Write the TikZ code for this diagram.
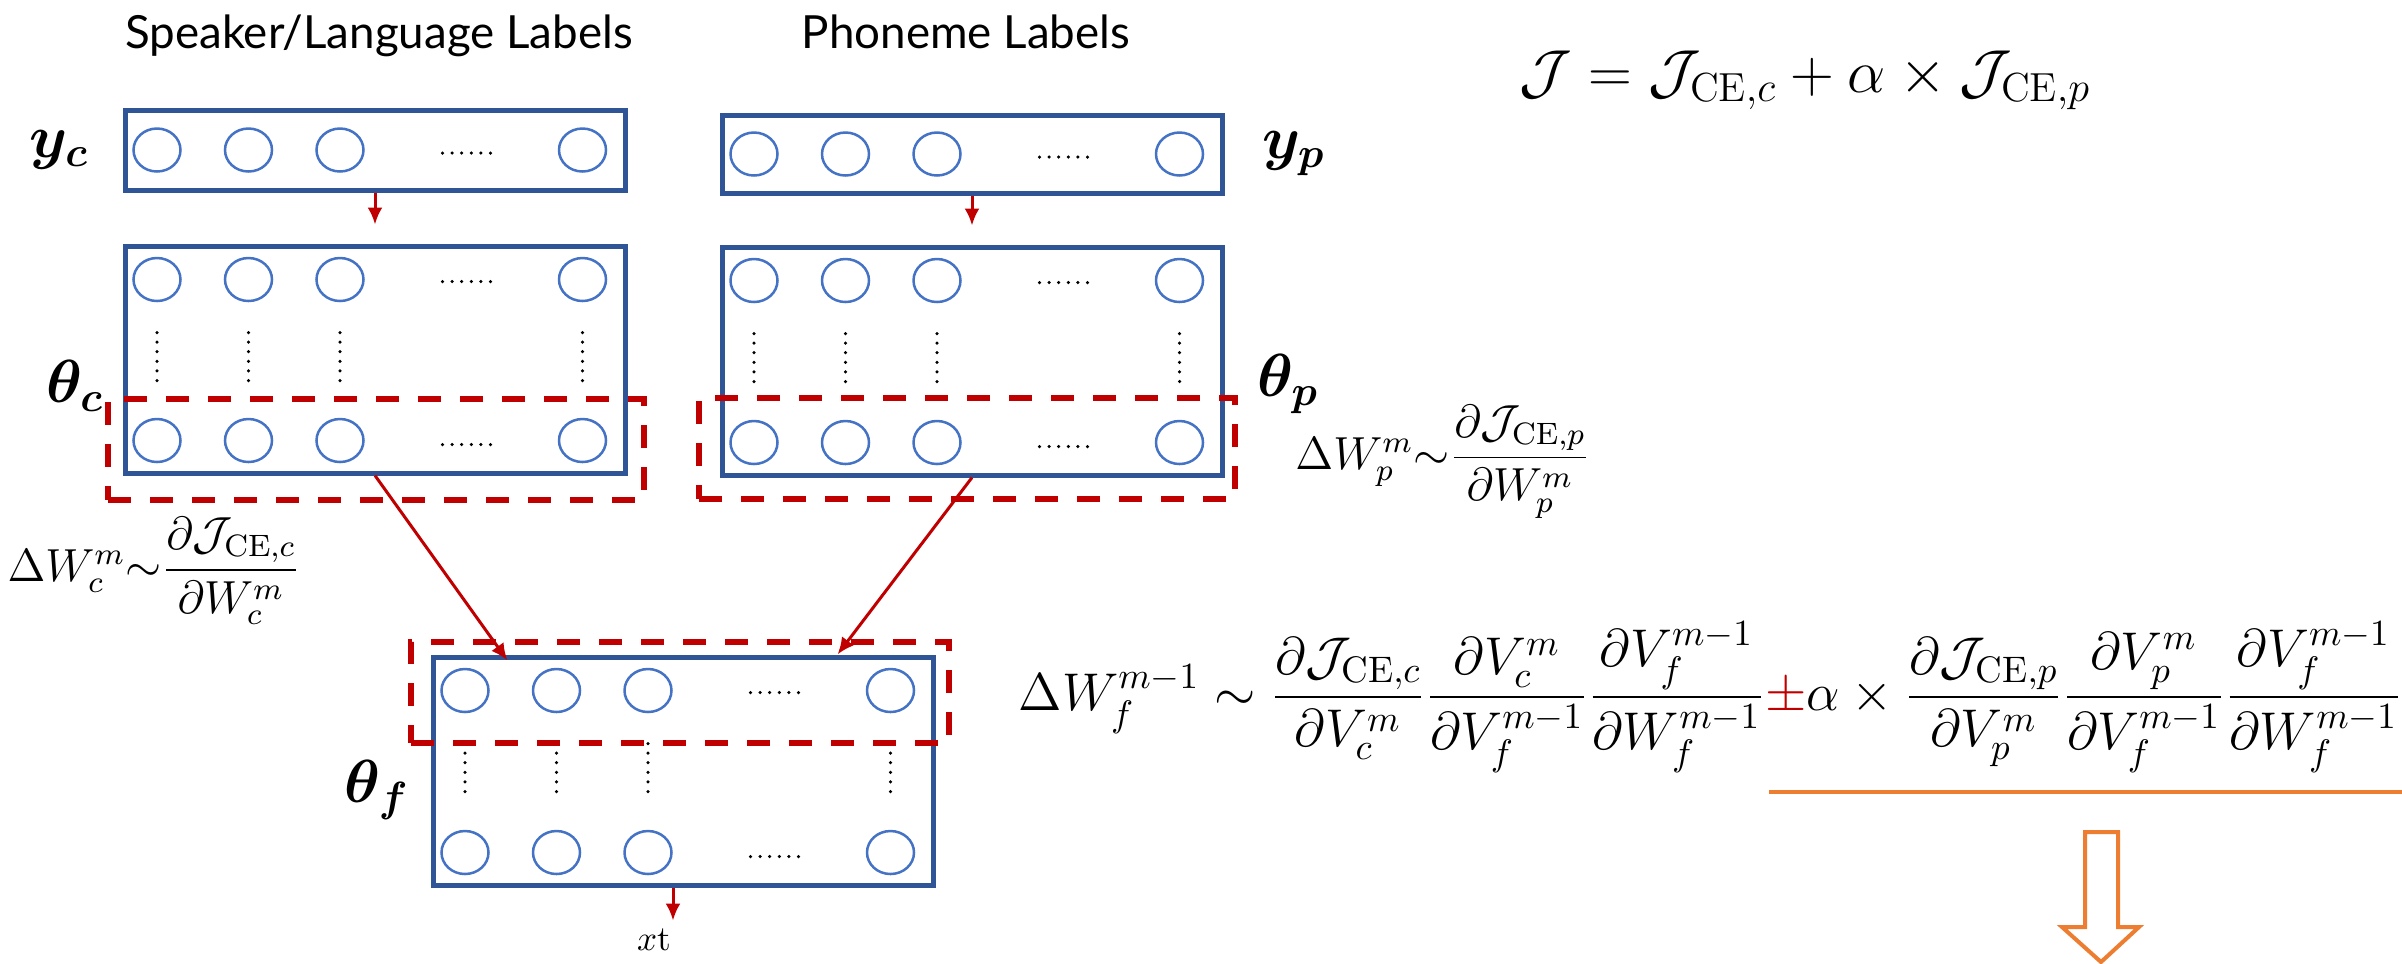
\documentclass[tikz,border=0pt]{standalone}
\usepackage{amsmath}
\usepackage{bm}
\usepackage{fontspec}
\newfontfamily\headfont{Lato}
\usepackage{xcolor}
\usetikzlibrary{shapes.geometric,arrows.meta,positioning,calc}
\definecolor{layerblue}{RGB}{47,85,151}
\definecolor{unitblue}{RGB}{68,114,196}
\definecolor{gradred}{RGB}{192,0,0}
\definecolor{pathorange}{RGB}{237,125,49}

\begin{document}
\begin{tikzpicture}[
    >={Latex[length=0.17cm,width=0.15cm]},
    layer/.style={rectangle, draw=layerblue, line width=0.05cm, minimum width=5cm, inner sep=0},
    unit/.style={ellipse, draw=unitblue, line width=0.025cm, minimum width=0.47cm, minimum height=0.43cm, inner sep=0},
    upd/.style={rectangle, draw=gradred, line width=0.06cm, dash pattern=on 0.23cm off 0.19cm, minimum width=5.36cm, minimum height=1.01cm, inner sep=0},
    dotrow/.style={line width=0.035cm, line cap=round, dash pattern=on 0pt off 0.096cm},
    flow/.style={->, draw=gradred, line width=0.03cm},
    head/.style={font=\headfont\fontsize{13}{15}\selectfont, inner sep=0},
    sym/.style={font=\fontsize{17}{20}\selectfont, inner sep=0},
    grad/.style={font=\fontsize{12}{15}\selectfont, inner sep=0}
]
\useasboundingbox (0,0) rectangle (24.02,-9.63);

% Output layers
\node[layer, minimum height=0.8cm] (yc) at (3.75,-1.50) {};
\node[layer, minimum height=0.78cm] (yp) at (9.72,-1.54) {};

% Task-specific layers
\node[layer, minimum height=2.27cm] (thc) at (3.75,-3.595) {};
\node[layer, minimum height=2.28cm] (thp) at (9.72,-3.61) {};

% Shared layers
\node[layer, minimum height=2.28cm] (thf) at (6.83,-7.71) {};

% Units
\foreach \i/\dx in {1/0.345,2/1.26,3/2.175,4/4.6} {
  \node[unit] (yc\i) at ($(yc.west)+(\dx,0)$) {};
  \node[unit] (yp\i) at ($(yp.west)+(\dx,0)$) {};
  \foreach \b in {thc,thp,thf} {
    \node[unit] (\b a\i) at ($(\b.north west)+(\dx,-0.36)$) {};
    \node[unit] (\b b\i) at ($(\b.south west)+(\dx,0.35)$) {};
    \draw[dotrow] ($(\b.north west)+(\dx,-0.89)$) -- ++(0,-0.48);
  }
}
\draw[dotrow] ($(yc.west)+(3.20,-0.03)$) -- ++(0.48,0);
\draw[dotrow] ($(yp.west)+(3.20,-0.03)$) -- ++(0.48,0);
\foreach \b in {thc,thp,thf} {
  \draw[dotrow] ($(\b.north west)+(3.20,-0.38)$) -- ++(0.48,0);
  \draw[dotrow] ($(\b.south west)+(3.20,0.31)$) -- ++(0.48,0);
}

% Updated weights
\node[upd] (updc) at (3.76,-4.495) {};
\node[upd] (updp) at (9.67,-4.485) {};
\node[upd, minimum width=5.38cm] (updf) at (6.80,-6.925) {};

% Arrows
\coordinate (inc) at ($(thf.north west)+(0.77,-0.06)$);
\coordinate (inp) at ($(thf.north west)+(4.07,0)$);
\coordinate (xtin) at ($(thf.south)+(-0.10,-0.33)$);
\draw[flow, shorten >=0.19cm] (yc.south) -- (thc.north);
\draw[flow, shorten >=0.19cm] (yp.south) -- (thp.north);
\draw[flow] (thc.south) -- (inc);
\draw[flow] (thp.south) -- (inp);
\draw[flow] (xtin |- thf.south) -- (xtin);

% Labels
\node[head, anchor=base] (spk) at (3.79,-0.48) {Speaker/Language Labels};
\node[head, anchor=base] (phn) at (9.66,-0.48) {Phoneme Labels};
\node[sym, left=0.33cm of yc] (lyc) {$\bm{y}_{\bm{c}}$};
\node[sym, right=0.37cm of yp] (lyp) {$\bm{y}_{\bm{p}}$};
\node[sym] (lthc) at (0.75,-3.86) {$\bm{\theta}_{\bm{c}}$};
\node[sym] (lthp) at (12.88,-3.84) {$\bm{\theta}_{\bm{p}}$};
\node[sym] (lthf) at (3.77,-7.90) {$\bm{\theta}_{\bm{f}}$};
\node[font=\fontsize{10}{12}\selectfont, inner sep=0] (xt) at (6.54,-9.40) {$x$t};

% Gradients
\node[grad] (dwc) at (1.54,-5.71) {\scalebox{1.1}{$\Delta W_c^m{\sim}\dfrac{\partial\mathcal{J}_{\mathrm{CE},c}}{\partial W_c^m}$}};
\node[grad] (dwp) at (14.43,-4.62) {\scalebox{1.1}{$\Delta W_p^m{\sim}\dfrac{\partial\mathcal{J}_{\mathrm{CE},p}}{\partial W_p^m}$}};
\node[grad, font=\fontsize{14.4}{17}\selectfont, anchor=west] (dwf) at (10.18,-6.97) {\scalebox{1.05}{$\Delta W_f^{m-1}\sim \dfrac{\partial\mathcal{J}_{\mathrm{CE},c}}{\partial V_c^m}\dfrac{\partial V_c^m}{\partial V_f^{m-1}}\dfrac{\partial V_f^{m-1}}{\partial W_f^{m-1}}\textcolor{gradred}{\pm}\alpha\times\dfrac{\partial\mathcal{J}_{\mathrm{CE},p}}{\partial V_p^m}\dfrac{\partial V_p^m}{\partial V_f^{m-1}}\dfrac{\partial V_f^{m-1}}{\partial W_f^{m-1}}$}};
\node[grad, font=\fontsize{16.5}{19}\selectfont] (loss) at (18.05,-0.80) {$\mathcal{J}=\mathcal{J}_{\mathrm{CE},c}+\alpha\times\mathcal{J}_{\mathrm{CE},p}$};

% Second term
\draw[pathorange, line width=0.04cm] (17.69,-7.92) -- (24.02,-7.92);
\draw[pathorange, line width=0.04cm, fill=white] (20.85,-8.32) -- (21.18,-8.32) -- (21.18,-9.27) -- (21.39,-9.27) -- (21.01,-9.62) -- (20.62,-9.27) -- (20.85,-9.27) -- cycle;

\end{tikzpicture}
\end{document}
